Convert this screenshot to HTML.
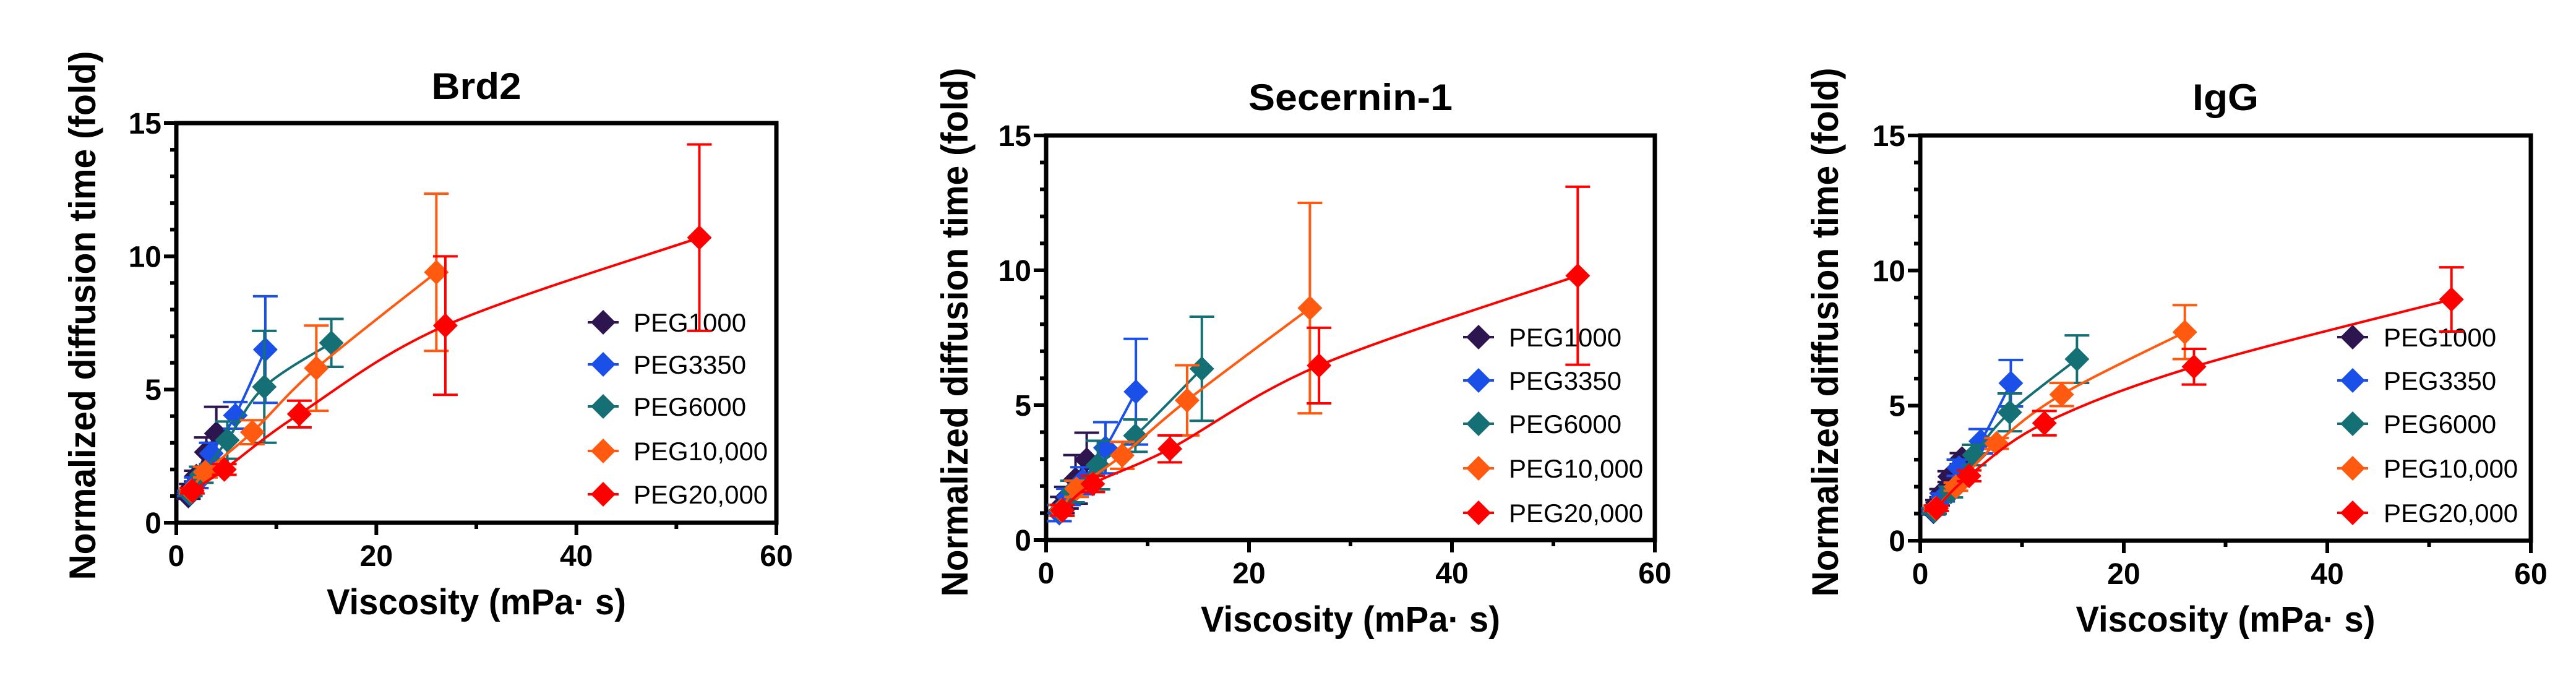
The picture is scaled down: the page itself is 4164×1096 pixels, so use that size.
<!DOCTYPE html>
<html><head><meta charset="utf-8"><style>
html,body{margin:0;padding:0;background:#fff;}
svg{display:block;}
text{font-family:"Liberation Sans",Arial,sans-serif;}
</style></head>
<body>
<svg id="fig" width="4164" height="1096" viewBox="0 0 4164 1096" xmlns="http://www.w3.org/2000/svg"></svg>
<script>
// ---- data ----
const seriesNames = ["PEG1000","PEG3350","PEG6000","PEG10,000","PEG20,000"];
const seriesColors = ["#2d1650","#1a4fe8","#157075","#ff5a0f","#ff0000"];
const xTicks = [0,20,40,60];
const yTicks = [0,5,10,15];
const panelTitles = ["Brd2","Secernin-1","IgG"];

// Brd2
const brd2X = [[1.2,1.5,2.0,3.0,4.0],[1.3,2.0,3.5,5.9,8.9],[1.4,2.5,5.1,8.8,15.5],[1.5,2.9,7.6,14.0,26.0],[1.6,4.8,12.3,26.9,52.3]];
const brd2Y = [[1.0,1.3,1.75,2.65,3.35],[1.1,1.5,2.6,4.03,6.5],[1.1,1.8,3.1,5.1,6.75],[1.2,1.9,3.4,5.8,9.4],[1.2,2.0,4.08,7.4,10.7]];
const brd2E = [[0.1,0.15,0.2,0.55,1.0],[0.1,0.2,0.4,0.5,2.0],[0.1,0.3,0.7,2.1,0.9],[0.1,0.2,0.45,1.6,2.95],[0.1,0.2,0.5,2.6,3.5]];
// Secernin-1
const secX = [[1.3,1.6,2.0,2.9,4.0],[1.3,2.2,3.6,5.85,8.85],[1.4,2.6,5.1,8.8,15.35],[1.5,3.0,7.5,13.9,26.0],[1.6,4.6,12.2,26.9,52.4]];
const secY = [[1.0,1.3,1.57,2.25,2.98],[1.0,1.6,2.2,3.42,5.5],[1.1,1.8,2.78,3.87,6.35],[1.1,1.9,3.14,5.18,8.6],[1.1,2.08,3.38,6.47,9.8]];
const secE = [[0.3,0.3,0.4,0.9,1.0],[0.3,0.3,0.5,0.95,1.96],[0.2,0.4,0.9,0.6,1.93],[0.2,0.3,0.5,1.3,3.9],[0.2,0.3,0.5,1.4,3.3]];
// IgG
const iggX = [[1.3,1.7,2.1,2.9,4.1],[1.3,2.2,3.8,5.95,8.9],[1.4,3.0,5.3,8.8,15.4],[1.5,3.5,7.5,13.9,26.0],[1.6,4.8,12.2,26.9,52.2]];
const iggY = [[1.07,1.4,1.76,2.37,3.04],[1.1,1.6,2.7,3.68,5.83],[1.1,1.8,3.17,4.75,6.72],[1.2,2.0,3.6,5.41,7.72],[1.2,2.4,4.35,6.44,8.93]];
const iggE = [[0.1,0.1,0.15,0.2,0.2],[0.1,0.15,0.3,0.45,0.86],[0.1,0.2,0.38,0.7,0.88],[0.1,0.15,0.2,0.43,1.0],[0.1,0.2,0.45,0.66,1.19]];

const panelXs=[brd2X,secX,iggX], panelYs=[brd2Y,secY,iggY], panelEs=[brd2E,secE,iggE];
// layout (not data)
const layouts=[
 {x0:285,x1:1255,y0:845,y1:199,titleY:160,ytX:133,ytY:510,xtY:993,legM:975,legT:1024,legY:[521,589,657,729,799],tw:145},
 {x0:1691,x1:2675,y0:873,y1:219,titleY:178,ytX:1543,ytY:537,xtY:1021,legM:2390,legT:2439,legY:[545,615,685,757,829],tw:330},
 {x0:3104,x1:4091,y0:874,y1:219,titleY:178,ytX:2950,ytY:537,xtY:1021,legM:3803,legT:3853,legY:[545,615,685,757,829],tw:107}
];
const NS="http://www.w3.org/2000/svg";
const svg=document.getElementById('fig');
function mk(tag,attrs,parent){const e=document.createElementNS(NS,tag);for(const k in attrs)e.setAttribute(k,attrs[k]);(parent||svg).appendChild(e);return e;}
function smooth(pts){
 let d="M"+pts[0][0]+","+pts[0][1];
 for(let i=0;i<pts.length-1;i++){
  const p0=pts[i-1]||pts[i],p1=pts[i],p2=pts[i+1],p3=pts[i+2]||p2;
  const c1=[p1[0]+(p2[0]-p0[0])/6,p1[1]+(p2[1]-p0[1])/6];
  const c2=[p2[0]-(p3[0]-p1[0])/6,p2[1]-(p3[1]-p1[1])/6];
  d+=" C"+c1+" "+c2+" "+p2;
 }
 return d;
}
function diamond(cx,cy,r){return `M${cx},${cy-r} L${cx+r},${cy} L${cx},${cy+r} L${cx-r},${cy} Z`;}

layouts.forEach((L,pi)=>{
 const g=mk('g',{});
 
 
 const sx=v=>L.x0+(L.x1-L.x0)*v/60;
 const sy=v=>L.y0+(L.y1-L.y0)*v/15;
 // title
 const t=mk('text',{x:(L.x0+L.x1)/2,y:L.titleY,'text-anchor':'middle','font-size':60,'font-weight':'bold',textLength:L.tw,lengthAdjust:'spacingAndGlyphs'},g);
 t.textContent=panelTitles[pi];
 
 
 // frame
 const fr=mk('rect',{x:L.x0,y:L.y1,width:L.x1-L.x0,height:L.y0-L.y1,fill:'none',stroke:'#000','stroke-width':7},g);
 
 
 // y ticks
 for(let v=0;v<=15;v++){
  const maj=v%5===0;
  mk('line',{x1:L.x0,x2:L.x0-(maj?20:10),y1:sy(v),y2:sy(v),stroke:'#000','stroke-width':6},g);
 }
 yTicks.forEach(v=>{
  const tl=mk('text',{x:L.x0-24,y:sy(v)+17,'text-anchor':'end','font-size':48,'font-weight':'bold'},g);
  tl.textContent=v;
  
  
 });
 for(let v=0;v<=60;v+=10){
  const maj=v%20===0;
  mk('line',{x1:sx(v),x2:sx(v),y1:L.y0,y2:L.y0+(maj?20:10),stroke:'#000','stroke-width':6},g);
 }
 xTicks.forEach(v=>{
  const tl=mk('text',{x:sx(v),y:L.y0+70,'text-anchor':'middle','font-size':48,'font-weight':'bold'},g);
  tl.textContent=v;
  
  
 });
 // axis titles
 const xt=mk('text',{x:(L.x0+L.x1)/2,y:L.xtY,'text-anchor':'middle','font-size':58,'font-weight':'bold',textLength:484,lengthAdjust:'spacingAndGlyphs'},g);
 xt.textContent="Viscosity (mPa· s)";
 
 
 const yt=mk('text',{x:0,y:0,'text-anchor':'middle','font-size':60,'font-weight':'bold',textLength:855,lengthAdjust:'spacingAndGlyphs',transform:`translate(${L.ytX+21},${L.ytY}) rotate(-90)`},g);
 yt.textContent="Normalized diffusion time (fold)";
 
 
 // series
 const X=panelXs[pi],Y=panelYs[pi],E=panelEs[pi];
 seriesNames.forEach((name,si)=>{
  const c=seriesColors[si];
  const sg=mk('g',{},g);
  
  
  const pts=X[si].map((x,i)=>[sx(x),sy(Y[si][i])]);
  mk('path',{d:smooth(pts),fill:'none',stroke:c,'stroke-width':4},sg);
  X[si].forEach((x,i)=>{
   const px=sx(x),py=sy(Y[si][i]),e=E[si][i];
   const eb=mk('path',{d:`M${px},${sy(Y[si][i]+e)} V${sy(Y[si][i]-e)} M${px-20},${sy(Y[si][i]+e)} H${px+20} M${px-20},${sy(Y[si][i]-e)} H${px+20}`,stroke:c,'stroke-width':4,fill:'none'},sg);
   
   
   const m=mk('path',{d:diamond(px,py,20),fill:c},sg);
   
   
  });
  // legend
  const ly=L.legY[si];
  const lg=mk('g',{},g);
  
  
  mk('line',{x1:L.legM-25,x2:L.legM+25,y1:ly,y2:ly,stroke:c,'stroke-width':4},lg);
  mk('path',{d:diamond(L.legM,ly,20),fill:c},lg);
  const lt=mk('text',{x:L.legT,y:ly+15,'font-size':42},lg);
  lt.textContent=name;
 });
});
</script>
</body></html>
